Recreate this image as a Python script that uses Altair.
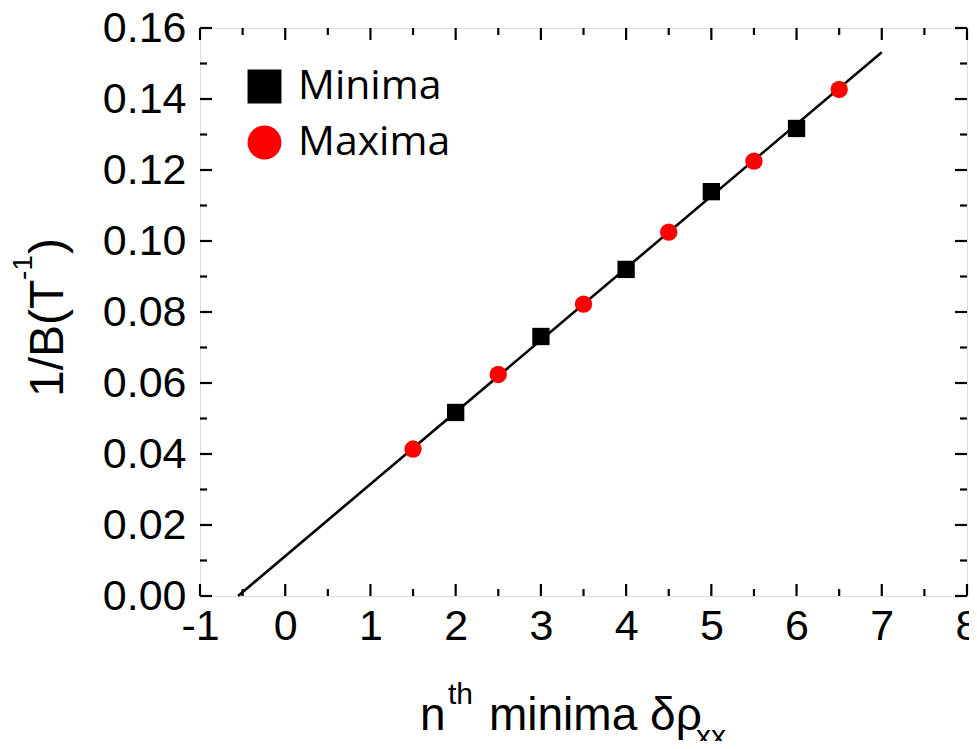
import altair as alt
import pandas as pd

# ---- data ----
min_n = [2, 3, 4, 5, 6]
min_inv_b = [0.0517, 0.0731, 0.0920, 0.1139, 0.1317]
max_n = [1.5, 2.5, 3.5, 4.5, 5.5, 6.5]
max_inv_b = [0.0414, 0.0624, 0.0822, 0.1025, 0.1225, 0.1427]
fit_n = [-0.554, 7.0]
fit_inv_b = [0.0, 0.1532]
series_names = ["Minima", "Maxima"]

x_major = [-1, 0, 1, 2, 3, 4, 5, 6, 7, 8]
x_minor = [-0.5, 0.5, 1.5, 2.5, 3.5, 4.5, 5.5, 6.5, 7.5]
y_major = [0.0, 0.02, 0.04, 0.06, 0.08, 0.10, 0.12, 0.14, 0.16]
y_minor = [0.01, 0.03, 0.05, 0.07, 0.09, 0.11, 0.13, 0.15]

x_title_parts = ["n", "th", "minima δρ", "xx"]
y_title_parts = ["1/B(T", "-1", ")"]

W, H = 767, 568
FONT = "Liberation Sans"

pts = pd.DataFrame(
    {"x": min_n + max_n,
     "y": min_inv_b + max_inv_b,
     "kind": [series_names[0]] * len(min_n) + [series_names[1]] * len(max_n)}
)
fit = pd.DataFrame({"x": fit_n, "y": fit_inv_b})

xscale = alt.Scale(domain=[-1, 8], nice=False, zero=False)
yscale = alt.Scale(domain=[0, 0.16], nice=False, zero=False)
x_axis = alt.Axis(values=x_major, labelExpr="datum.value + ''", ticks=False, domain=False,
                  grid=False, labelFont=FONT, labelFontSize=43, labelColor="black",
                  labelPadding=9, title=None, labelFlush=False, labelOverlap=False)
y_axis = alt.Axis(values=y_major, format=".2f", ticks=False, domain=False, grid=False,
                  labelFont=FONT, labelFontSize=43, labelColor="black", labelPadding=14,
                  title=None, labelOverlap=False)
X = lambda: alt.X("x:Q", scale=xscale, axis=x_axis)
Y = lambda: alt.Y("y:Q", scale=yscale, axis=y_axis)

layers = []
# inward ticks on all four sides
for vals, L in ((x_major, 12), (x_minor, 7)):
    d = pd.DataFrame({"x": vals})
    layers.append(alt.Chart(d).mark_rule(color="black", strokeWidth=2.2).encode(
        x=X(), y=alt.value(H), y2=alt.value(H - L)))
    layers.append(alt.Chart(d).mark_rule(color="black", strokeWidth=2.2).encode(
        x=X(), y=alt.value(0), y2=alt.value(L)))
for vals, L in ((y_major, 12), (y_minor, 7)):
    d = pd.DataFrame({"y": vals})
    layers.append(alt.Chart(d).mark_rule(color="black", strokeWidth=2.2).encode(
        y=Y(), x=alt.value(0), x2=alt.value(L)))
    layers.append(alt.Chart(d).mark_rule(color="black", strokeWidth=2.2).encode(
        y=Y(), x=alt.value(W), x2=alt.value(W - L)))

layers.append(alt.Chart(fit).mark_line(color="black", strokeWidth=2.6).encode(x=X(), y=Y()))

leg = alt.Legend(orient="none", legendX=44, legendY=38, title=None,
                 symbolSize=1150, symbolStrokeWidth=0, symbolOpacity=1,
                 labelFont="Open Sans", labelFontSize=41,
                 labelColor="black", labelOffset=13, rowPadding=14)
layers.append(alt.Chart(pts).mark_point(filled=True, opacity=1, size=300).encode(
    x=X(), y=Y(),
    shape=alt.Shape("kind:N", scale=alt.Scale(domain=series_names, range=["square", "circle"]),
                    legend=leg),
    color=alt.Color("kind:N", scale=alt.Scale(domain=series_names, range=["black", "#ff0000"]),
                    legend=leg),
))

# composed x-axis title (with superscript and subscript)
xt = [(x_title_parts[0], 46, 220, 702),
      (x_title_parts[1], 30, 248, 676),
      (x_title_parts[2], 46, 289, 702),
      (x_title_parts[3], 30, 496, 718)]
for txt, fs, px, py in xt:
    layers.append(alt.Chart(pd.DataFrame({"t": [txt]})).mark_text(
        font=FONT, fontSize=fs, align="left", baseline="alphabetic", color="black").encode(
        text="t:N", x=alt.value(px), y=alt.value(py)))

# composed y-axis title (rotated, with superscript)
yt = [(y_title_parts[0], 48, -137, 369),
      (y_title_parts[1], 28, -168, 252),
      (y_title_parts[2], 48, -137, 226)]
for txt, fs, px, py in yt:
    layers.append(alt.Chart(pd.DataFrame({"t": [txt]})).mark_text(
        font=FONT, fontSize=fs, align="left", baseline="alphabetic", angle=270,
        color="black").encode(text="t:N", x=alt.value(px), y=alt.value(py)))

chart = alt.layer(*layers).properties(
    width=W, height=H,
    autosize=alt.AutoSizeParams(type="none"),
    padding={"left": 192, "top": 20, "right": 2, "bottom": 145},
).configure_view(stroke="black", strokeWidth=2.6).configure(background="white")

chart.save("out.html", embed_options={"renderer": "svg", "actions": False})
